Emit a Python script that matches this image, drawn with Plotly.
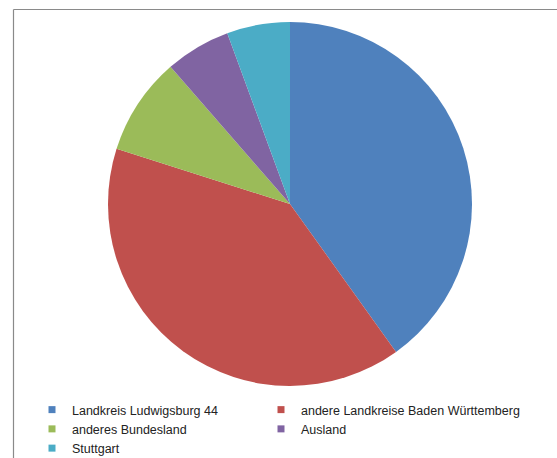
import plotly.graph_objects as go

labels = ["Landkreis Ludwigsburg 44", "andere Landkreise Baden Württemberg",
          "anderes Bundesland", "Ausland", "Stuttgart"]
values = [40.1, 39.8, 8.7, 5.8, 5.6]
colors = ["#4F81BD", "#C0504D", "#9BBB59", "#8064A2", "#4BACC6"]
legend_column = ["legend", "legend2", "legend", "legend2", "legend"]

W, H = 557, 458
cx, cy, r = 290, 204, 182

fig = go.Figure()
fig.add_trace(go.Pie(
    labels=labels, values=values, sort=False, direction="clockwise", rotation=0,
    marker=dict(colors=colors, line=dict(width=0)), textinfo="none",
    hoverinfo="label+value", showlegend=False,
    domain=dict(x=[(cx - r) / W, (cx + r) / W], y=[1 - (cy + r) / H, 1 - (cy - r) / H]),
))
for lab, col, lg in zip(labels, colors, legend_column):
    fig.add_trace(go.Scatter(x=[None], y=[None], mode="markers", name=lab, legend=lg,
                             marker=dict(symbol="square", size=7, color=col)))

leg_common = dict(orientation="v", xanchor="left", y=1 - 395 / H, yanchor="top",
                  itemwidth=30, font=dict(size=12.5), bgcolor="rgba(0,0,0,0)",
                  tracegroupgap=0)
fig.update_layout(
    width=W, height=H, margin=dict(l=0, r=0, t=0, b=0, autoexpand=False),
    paper_bgcolor="white", plot_bgcolor="white",
    xaxis=dict(visible=False), yaxis=dict(visible=False),
    font=dict(family="Liberation Sans, Arial, sans-serif", size=12.5, color="#222"),
    legend=dict(x=32 / W, **leg_common),
    legend2=dict(x=261 / W, **leg_common),
    shapes=[dict(type="line", xref="paper", yref="paper",
                 x0=13.5 / W, x1=1, y0=1 - 9.5 / H, y1=1 - 9.5 / H,
                 line=dict(color="#8a8a8a", width=1.2)),
            dict(type="line", xref="paper", yref="paper",
                 x0=13.5 / W, x1=13.5 / W, y0=0, y1=1 - 9.5 / H,
                 line=dict(color="#8a8a8a", width=1.2))],
)
fig.write_html("out.html", config={"displayModeBar": False},
               post_script="document.body.style.margin='0';document.body.style.overflow='hidden';")
